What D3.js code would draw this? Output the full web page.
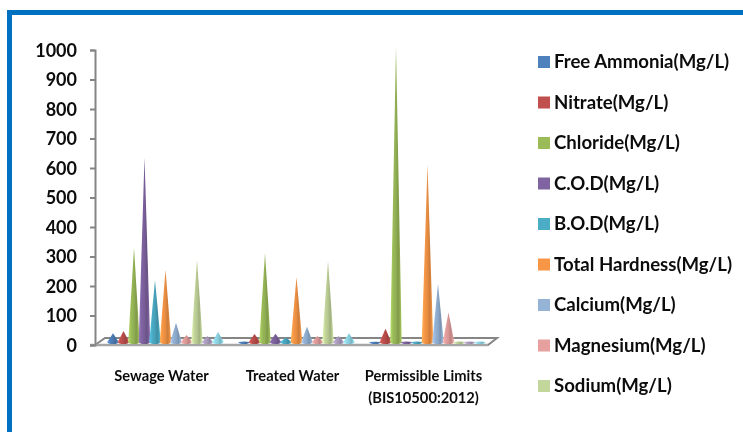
<!DOCTYPE html>
<html>
<head>
<meta charset="utf-8">
<script src="https://cdnjs.cloudflare.com/ajax/libs/d3/7.8.5/d3.min.js"></script>
<style>
html,body{margin:0;padding:0;background:#fff}
svg{display:block;filter:blur(0.35px)}
text{font-family:Lato,"Open Sans",sans-serif;fill:#0c0c0c}
</style>
</head>
<body>
<svg id="c" width="743" height="432"></svg>
<script>
const categories = ["Sewage Water", "Treated Water", "Permissible Limits"];
const categorySub = ["", "", "(BIS10500:2012)"];
const seriesNames = ["Free Ammonia(Mg/L)", "Nitrate(Mg/L)", "Chloride(Mg/L)", "C.O.D(Mg/L)", "B.O.D(Mg/L)", "Total Hardness(Mg/L)", "Calcium(Mg/L)", "Magnesium(Mg/L)", "Sodium(Mg/L)", "Series 10", "Series 11"];
const legendCount = 9;
const seriesColors = ["#4F81BD", "#C0504D", "#9BBB59", "#8064A2", "#4BACC6", "#F79646", "#95B3D7", "#E6A09E", "#C3D69B", "#B2A2C7", "#92DCEC"];
const sewage = [30, 37, 319, 625, 210, 245, 65, 24, 278, 20, 34];
const treated = [2, 27, 302, 28, 15, 220, 52, 20, 275, 20, 30];
const permissible = [1, 45, 1000, 2, 2, 600, 197, 100, 2, 2, 2];
const groups = [sewage, treated, permissible];
const yTicks = [0, 100, 200, 300, 400, 500, 600, 700, 800, 900, 1000];

const svg = d3.select("#c");
const axisGrey = "#858585";

// Frame
const frame = svg.append("g").attr("fill", "#0070C0");
frame.append("rect").attr("x", 7).attr("y", 10).attr("width", 736).attr("height", 5);
frame.append("rect").attr("x", 7).attr("y", 10).attr("width", 5).attr("height", 422);

// Scales
const y = d3.scaleLinear().domain([0, 1000]).range([345, 50]);
const x0 = d3.scaleBand().domain(categories).range([100, 493]);
const x1 = d3.scaleBand().domain(seriesNames).range([7.75, 123.25]);
const depth = { dx: 10, dy: 7 };
const coneLift = 3, coneW = 11.5, coneRy = 2;

// Gradients
const defs = svg.append("defs");
seriesColors.forEach((c, i) => {
  const g = defs.append("linearGradient").attr("id", "g" + i)
    .attr("x1", "0%").attr("x2", "100%").attr("y1", "0%").attr("y2", "0%");
  const base = d3.color(c);
  [[0, base.brighter(0.5)], [0.25, base], [0.5, base.darker(0.2)], [0.7, base.darker(0.55)], [0.88, base.darker(0.1)], [1, base.brighter(0.5)]]
    .forEach(([o, col]) => g.append("stop").attr("offset", o).attr("stop-color", col.formatHex()));
});

// Floor
const fx0 = 95, fx1 = 488, fy = y(0);
svg.append("path")
  .attr("d", `M${fx0},${fy}L${fx0 + depth.dx},${fy - depth.dy}H${fx1 + depth.dx - 1}L${fx1},${fy}Z`)
  .attr("fill", "#fff").attr("stroke", axisGrey).attr("stroke-width", 2);
svg.append("line").attr("x1", fx0 - 5).attr("x2", fx1).attr("y1", fy).attr("y2", fy)
  .attr("stroke", "#a6a6a6").attr("stroke-width", 2.5);

// Y axis
const yAxis = d3.axisLeft(y).tickValues(yTicks).tickSize(5).tickPadding(13).tickFormat(d3.format("d"));
const gy = svg.append("g").attr("transform", `translate(${fx0},0)`).call(yAxis);
gy.selectAll(".domain").attr("stroke", axisGrey).attr("stroke-width", 2);
gy.selectAll(".tick line").attr("stroke", axisGrey).attr("stroke-width", 2);
gy.selectAll(".tick text").style("font-size", "18px").style("font-weight", 700).attr("dy", "0.34em");
gy.attr("font-family", null);

// Cones
categories.forEach((cat, gi) => {
  const layer = svg.append("g").attr("transform", `translate(${x0(cat)},0)`);
  layer.selectAll("path").data(groups[gi].map((v, i) => ({ v, i }))).join("path")
    .attr("fill", d => `url(#g${d.i})`)
    .attr("d", d => {
      const cx = x1(seriesNames[d.i]) + x1.bandwidth() / 2;
      const by = y(0) - coneLift, ty = y(d.v) - coneLift, hw = coneW / 2;
      return `M${cx - hw},${by}L${cx},${ty}L${cx + hw},${by}A${hw},${coneRy} 0 0 1 ${cx - hw},${by}Z`;
    });
});

// Category labels
categories.forEach((cat, gi) => {
  svg.append("text").attr("text-anchor", "middle")
    .attr("x", x0(cat) + x0.bandwidth() / 2 - 4).attr("y", 381)
    .style("font-size", "14.7px").style("font-weight", 700).text(cat);
  if (categorySub[gi]) {
    svg.append("text").attr("text-anchor", "middle")
      .attr("x", x0(cat) + x0.bandwidth() / 2 - 4).attr("y", 403)
      .style("font-size", "14.7px").style("font-weight", 700).text(categorySub[gi]);
  }
});

// Legend
const legY = d3.scalePoint().domain(seriesNames.slice(0, legendCount)).range([62, 386]);
const leg = svg.append("g").selectAll("g").data(seriesNames.slice(0, legendCount)).join("g")
  .attr("transform", d => `translate(538,${legY(d)})`);
leg.append("rect").attr("x", 0).attr("y", -6).attr("width", 12).attr("height", 12)
  .attr("fill", (d, i) => seriesColors[i]);
leg.append("text").attr("x", 16).attr("dy", "0.34em")
  .style("font-size", "18.6px").style("font-weight", 700).text(d => d);
</script>
</body>
</html>
